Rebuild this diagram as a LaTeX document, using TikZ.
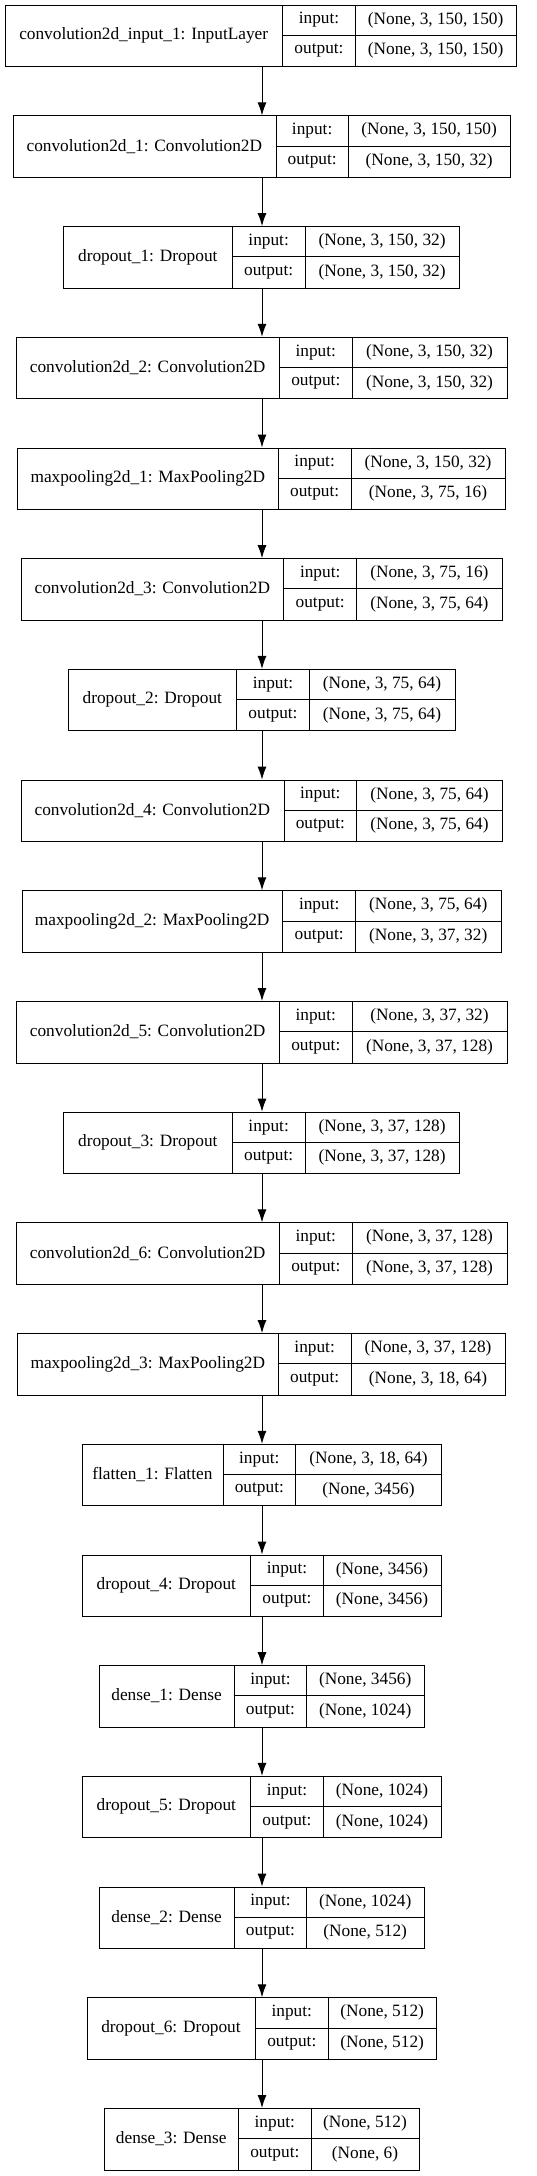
\documentclass[tikz,border=0pt]{standalone}
\usepackage{fontspec}
\setmainfont{Liberation Serif}
\usetikzlibrary{arrows.meta}
\tikzset{
  layerbox/.style={draw=black, line width=1pt, rectangle, minimum height=61.5pt, inner sep=0pt},
  cell/.style={draw=black, line width=1pt},
  txt/.style={inner sep=0pt, font=\fontsize{17.3}{20}\selectfont},
  arr/.style={draw=black, line width=1pt, -{Latex[length=13pt,width=9pt]}}
}
\newcommand\lay[8]{%
  \pgfmathsetmacro\Ltp{4.7+110.7*#1}%
  \pgfmathsetmacro\Lbt{\Ltp+61.5}%
  \pgfmathsetmacro\Lmd{\Ltp+30.75}%
  \pgfmathsetmacro\Lw{#5-#2}%
  \node[layerbox, minimum width=\Lw pt, anchor=north west] (L#1) at (#2,\Ltp) {};
  \node[txt] (L#1n) at ({(#2+#3)/2},\Lmd) {#6};
  \draw[cell] (#3,\Ltp) -- (#3,\Lbt) (#4,\Ltp) -- (#4,\Lbt) (#3,\Lmd) -- (#5,\Lmd);
  \node[txt] (L#1il) at ({(#3+#4)/2},{\Ltp+15.4}) {input:};
  \node[txt] (L#1ol) at ({(#3+#4)/2},{\Ltp+46.1}) {output:};
  \node[txt] (L#1iv) at ({(#4+#5)/2},{\Ltp+15.4}) {#7};
  \node[txt] (L#1ov) at ({(#4+#5)/2},{\Ltp+46.1}) {#8};
}
\begin{document}
\begin{tikzpicture}[x=1pt,y=-1pt]
\fill[white] (0,0) rectangle (537,2176);
\useasboundingbox (0,0) rectangle (537,2176);
\coordinate (ax) at (262,0);
\lay{0}{4.7}{282.7}{355.3}{516}{convolution2d\_input\_1: InputLayer}{(None, 3, 150, 150)}{(None, 3, 150, 150)}
\lay{1}{12.7}{276}{348.3}{510}{convolution2d\_1: Convolution2D}{(None, 3, 150, 150)}{(None, 3, 150, 32)}
\lay{2}{63.3}{232.3}{305}{459.3}{dropout\_1: Dropout}{(None, 3, 150, 32)}{(None, 3, 150, 32)}
\lay{3}{16}{279.3}{352.3}{506.7}{convolution2d\_2: Convolution2D}{(None, 3, 150, 32)}{(None, 3, 150, 32)}
\lay{4}{17.3}{278.3}{351}{505}{maxpooling2d\_1: MaxPooling2D}{(None, 3, 150, 32)}{(None, 3, 75, 16)}
\lay{5}{21}{283.7}{356.7}{502}{convolution2d\_3: Convolution2D}{(None, 3, 75, 16)}{(None, 3, 75, 64)}
\lay{6}{68}{236.7}{309.3}{454.7}{dropout\_2: Dropout}{(None, 3, 75, 64)}{(None, 3, 75, 64)}
\lay{7}{20.7}{284}{356.7}{502.3}{convolution2d\_4: Convolution2D}{(None, 3, 75, 64)}{(None, 3, 75, 64)}
\lay{8}{21.7}{282.7}{355.7}{500.7}{maxpooling2d\_2: MaxPooling2D}{(None, 3, 75, 64)}{(None, 3, 37, 32)}
\lay{9}{16}{279.3}{352.3}{506.7}{convolution2d\_5: Convolution2D}{(None, 3, 37, 32)}{(None, 3, 37, 128)}
\lay{10}{63.3}{232.3}{305}{459.3}{dropout\_3: Dropout}{(None, 3, 37, 128)}{(None, 3, 37, 128)}
\lay{11}{16}{279.3}{352.3}{506.7}{convolution2d\_6: Convolution2D}{(None, 3, 37, 128)}{(None, 3, 37, 128)}
\lay{12}{17.3}{278.3}{351}{505}{maxpooling2d\_3: MaxPooling2D}{(None, 3, 37, 128)}{(None, 3, 18, 64)}
\lay{13}{81.7}{223}{295.7}{441.3}{flatten\_1: Flatten}{(None, 3, 18, 64)}{(None, 3456)}
\lay{14}{82}{250.7}{323.3}{440.7}{dropout\_4: Dropout}{(None, 3456)}{(None, 3456)}
\lay{15}{99}{234.3}{306.7}{423.7}{dense\_1: Dense}{(None, 3456)}{(None, 1024)}
\lay{16}{82}{250.7}{323.3}{440.7}{dropout\_5: Dropout}{(None, 1024)}{(None, 1024)}
\lay{17}{99}{234.3}{306.7}{423.7}{dense\_2: Dense}{(None, 1024)}{(None, 512)}
\lay{18}{86.7}{255.3}{328.3}{436}{dropout\_6: Dropout}{(None, 512)}{(None, 512)}
\lay{19}{103.7}{238.7}{311}{419}{dense\_3: Dense}{(None, 512)}{(None, 6)}
\foreach \i [evaluate=\i as \j using int(\i+1)] in {0,...,18}
  {\draw[arr] (L\i.south -| ax) -- (L\j.north -| ax);}
\end{tikzpicture}
\end{document}
